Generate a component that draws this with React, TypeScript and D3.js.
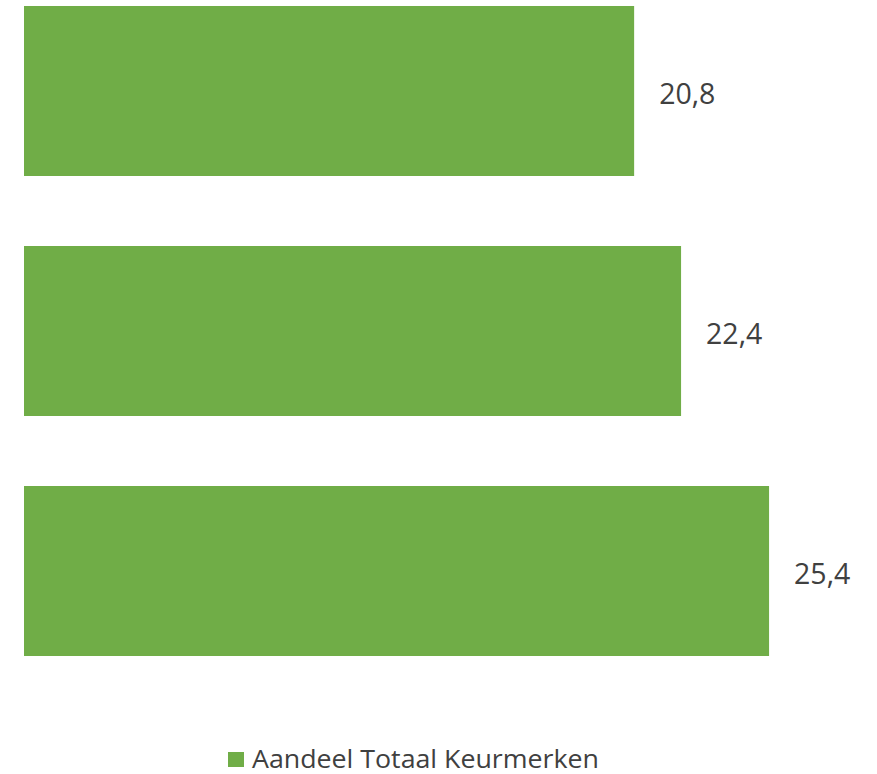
import React, { useMemo } from 'react'
import * as d3 from 'd3'

const categories = ['a', 'b', 'c']
const values = [20.8, 22.4, 25.4]
const seriesName = 'Aandeel Totaal Keurmerken'

const width = 877
const height = 774
const green = '#70AD47'
const textColor = '#404040'
const font = '"Open Sans", "Noto Sans", sans-serif'

const App: React.FC = () => {
  const xScale = useMemo(() => d3.scaleLinear().domain([0, 30]).range([24, 904]), [])
  const yScale = useMemo(
    () =>
      d3
        .scaleBand<string>()
        .domain(categories)
        .range([-29, 691])
        .paddingInner(0.2917)
        .paddingOuter(0.1458),
    []
  )

  const fmt = (v: number) => v.toFixed(1).replace('.', ',')

  return (
    <svg
      width={width}
      height={height}
      style={{ position: 'absolute', left: 0, top: 0, display: 'block', background: '#fff' }}
    >
      {categories.map((c, i) => {
        const y = yScale(c) ?? 0
        const bw = yScale.bandwidth()
        return (
          <g key={c}>
            <rect x={xScale(0)} y={y} width={xScale(values[i]) - xScale(0)} height={bw} fill={green} />
            <text
              x={xScale(values[i]) + 25}
              y={y + bw / 2 + 2}
              dominantBaseline="central"
              fontFamily={font}
              fontSize={28.5}
              fill={textColor}
            >
              {fmt(values[i])}
            </text>
          </g>
        )
      })}
      {/* legend */}
      <rect x={228} y={752} width={16} height={15} fill={green} />
      <text
        x={252}
        y={768}
        fontFamily={font}
        fontSize={25}
        fill={textColor}
        textLength={347}
        lengthAdjust="spacingAndGlyphs"
      >
        {seriesName}
      </text>
    </svg>
  )
}

export default App
